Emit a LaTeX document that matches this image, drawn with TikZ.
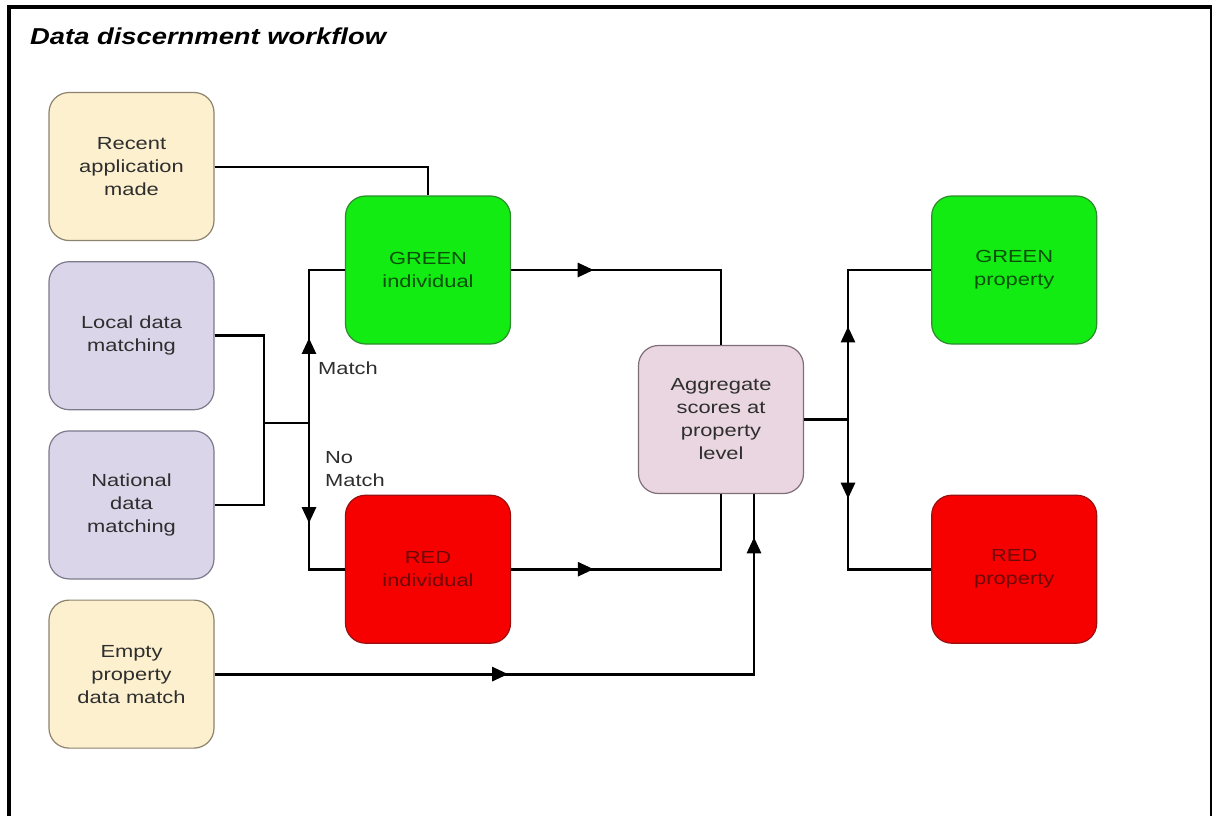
\documentclass[tikz,border=0pt]{standalone}
\usepackage{fontspec}
\usepackage{tikz}
\usetikzlibrary{arrows.meta, positioning, decorations.markings}
\newfontfamily\boxfont[FakeStretch=1.25]{Liberation Sans}
\newfontfamily\titlefont[FakeStretch=1.19]{Liberation Sans}

\definecolor{srcfill}{HTML}{FDF0CF}
\definecolor{srcdraw}{HTML}{8C836E}
\definecolor{matchfill}{HTML}{DAD5E9}
\definecolor{matchdraw}{HTML}{7D7A8C}
\definecolor{grnfill}{HTML}{12EC12}
\definecolor{grndraw}{HTML}{2E8B2E}
\definecolor{grntext}{HTML}{0B4F0B}
\definecolor{redfill}{HTML}{F70000}
\definecolor{reddraw}{HTML}{9A1010}
\definecolor{redtext}{HTML}{6E0808}
\definecolor{aggfill}{HTML}{E9D6E0}
\definecolor{aggdraw}{HTML}{7E6E78}
\definecolor{txtgray}{HTML}{2E2E2E}

\tikzset{
  box/.style={rectangle, draw, rounded corners=20pt, line width=1.2pt,
              minimum width=165pt, minimum height=148pt, inner sep=0pt,
              align=center, text=txtgray,
              font=\boxfont\fontsize{17.5}{23}\selectfont},
  source/.style={box, fill=srcfill, draw=srcdraw},
  matcher/.style={box, fill=matchfill, draw=matchdraw},
  greenbox/.style={box, fill=grnfill, draw=grndraw, text=grntext},
  redbox/.style={box, fill=redfill, draw=reddraw, text=redtext},
  aggbox/.style={box, fill=aggfill, draw=aggdraw},
  wire/.style={line width=2.8pt},
  thinwire/.style={line width=2pt},
  tipat/.style={postaction={decorate, decoration={markings,
                mark=at position #1 with {\arrow{Triangle[length=16pt,width=14pt]}}}}},
  lbl/.style={text=txtgray, align=left, inner sep=0pt,
              font=\boxfont\fontsize{17.5}{23}\selectfont},
}

\begin{document}
\begin{tikzpicture}[x=1pt, y=-1pt, node distance=20pt]
  \useasboundingbox (0,0) rectangle (1212,816);
  \draw[line width=4pt] (8.5,816) -- (8.5,7) -- (1212,7);
  \draw[line width=2pt] (1211,7) -- (1211,816);
  \node[anchor=base west, inner sep=0pt, font=\titlefont\bfseries\itshape\fontsize{23}{27}\selectfont] (title) at (30,45) {Data discernment workflow};

  \node[source] (recent) at (131.5,166.5) {Recent\\application\\made};
  \node[matcher, below=of recent] (local) {Local data\\matching};
  \node[matcher, below=of local] (national) {National\\data\\matching};
  \node[source, below=of national] (empty) {Empty\\property\\data match};

  \node[greenbox] (gi) at (428,270) {GREEN\\individual};
  \node[redbox, below=150pt of gi] (ri) {RED\\individual};
  \node[aggbox] (agg) at (721,419.5) {Aggregate\\scores at\\property\\level};
  \node[greenbox, right=420pt of gi] (gp) {GREEN\\property};
  \node[redbox, below=150pt of gp] (rp) {RED\\property};

  \node[lbl, anchor=west] (matchlbl) at (318,368) {Match};
  \node[lbl, anchor=west] (nomatchlbl) at (325,469) {No\\Match};

  \coordinate (inmerge) at (264,423);
  \coordinate (mfork) at (309,423);
  \coordinate (ofork) at (848,419.5);

  \draw[thinwire] (recent.east) -| (gi.north);
  \draw[wire] (local.east) -| (inmerge) -- (mfork);
  \draw[wire] (national.east) -| (inmerge);
  \draw[wire, tipat=0.45] (mfork) |- (gi.west);
  \draw[wire, tipat=0.55] (mfork) |- (ri.west);
  \draw[wire, tipat=0.29] (gi.east) -| (agg.north);
  \draw[wire, tipat=0.29] (ri.east) -| (agg.south);
  \draw[wire, tipat=0.408, tipat=0.94] (empty.east) -| ([xshift=33pt]agg.south);
  \draw[wire] (agg.east) -- (ofork);
  \draw[wire, tipat=0.40] (ofork) |- (gp.west);
  \draw[wire, tipat=0.34] (ofork) |- (rp.west);
\end{tikzpicture}
\end{document}
